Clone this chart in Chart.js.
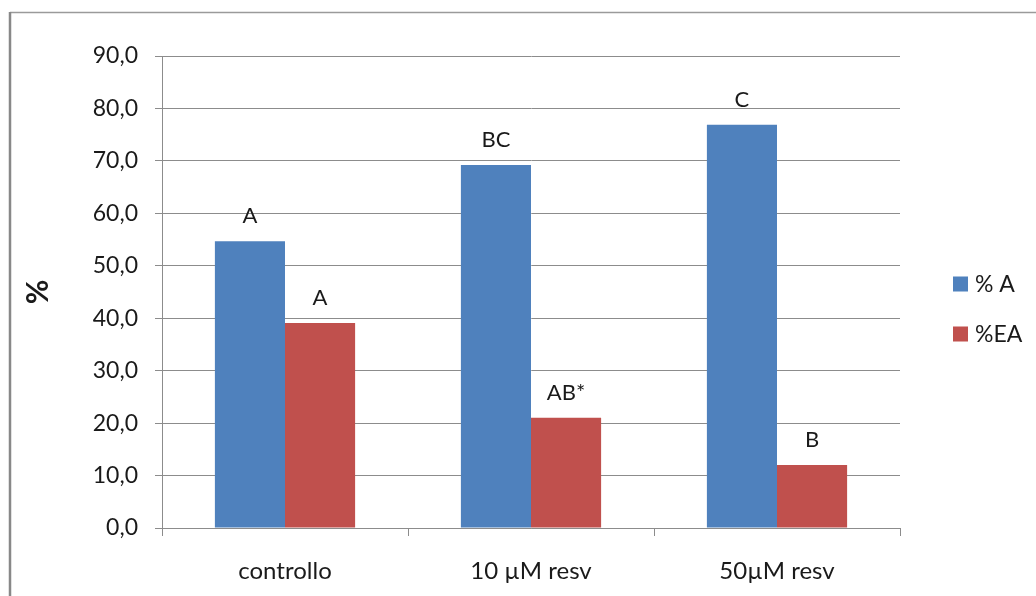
<!DOCTYPE html>
<html>
<head>
<meta charset="utf-8">
<script src="https://cdn.jsdelivr.net/npm/chart.js@4"></script>
<style>
  html, body { margin: 0; padding: 0; background: #fff; }
  #wrap { width: 1036px; height: 596px; }
</style>
</head>
<body>
<div id="wrap"><canvas id="c" width="1036" height="596"></canvas></div>
<script>
// Treatment groups
const categories = ['controllo', '10 \u00B5M resv', '50\u00B5M resv'];
// Series names
const seriesNames = ['% A', '%EA'];
// Percentages per group
const valuesA  = [54.7, 69.2, 76.9];
const valuesEA = [39.1, 21.0, 12.0];
// Significance letters shown above each bar
const lettersA  = ['A', 'BC', 'C'];
const lettersEA = ['A', 'AB*', 'B'];
// Y axis range
const yTicks = { min: 0, max: 90, step: 10 };

const FONT = 'Lato, "Open Sans", sans-serif';
const TEXT = '#1a1a1a';
const GRID = '#8c8c8c';

// Outer frame and white background
const framePlugin = {
  id: 'frame',
  beforeDraw(chart) {
    const { ctx, width, height } = chart;
    ctx.save();
    ctx.fillStyle = '#fff';
    ctx.fillRect(0, 0, width, height);
    ctx.strokeStyle = '#9a9a9a';
    ctx.lineWidth = 1.5;
    ctx.beginPath();
    ctx.moveTo(10, 12.5);
    ctx.lineTo(width, 12.5);
    ctx.stroke();
    ctx.strokeStyle = '#888';
    ctx.lineWidth = 2.5;
    ctx.beginPath();
    ctx.moveTo(10, 12);
    ctx.lineTo(10, height);
    ctx.stroke();
    ctx.restore();
  }
};

// Letters above the bars
const letterPlugin = {
  id: 'letters',
  afterDatasetsDraw(chart, args, opts) {
    const { ctx } = chart;
    ctx.save();
    ctx.font = opts.size + 'px ' + FONT;
    ctx.fillStyle = TEXT;
    ctx.textAlign = 'center';
    ctx.textBaseline = 'alphabetic';
    chart.data.datasets.forEach((ds, di) => {
      const meta = chart.getDatasetMeta(di);
      meta.data.forEach((bar, i) => {
        const txt = ds.letters[i];
        if (txt) ctx.fillText(txt, bar.x, bar.y - opts.gap);
      });
    });
    ctx.restore();
  }
};

// Legend on the right, drawn from the dataset labels and colours
const sideLegend = {
  id: 'sideLegend',
  afterDraw(chart, args, opts) {
    const { ctx } = chart;
    ctx.save();
    ctx.font = opts.size + 'px ' + FONT;
    ctx.textBaseline = 'middle';
    ctx.textAlign = 'left';
    chart.data.datasets.forEach((ds, i) => {
      const cy = opts.y + i * opts.spacing;
      ctx.fillStyle = ds.backgroundColor;
      ctx.fillRect(opts.x, cy - opts.box / 2, opts.box, opts.box);
      ctx.fillStyle = TEXT;
      ctx.fillText(ds.label, opts.x + opts.box + 7, cy + 1);
    });
    ctx.restore();
  }
};

new Chart(document.getElementById('c'), {
  type: 'bar',
  data: {
    labels: categories,
    datasets: [
      { label: seriesNames[0], data: valuesA, letters: lettersA, backgroundColor: '#4F81BD' },
      { label: seriesNames[1], data: valuesEA, letters: lettersEA, backgroundColor: '#C0504D' }
    ]
  },
  options: {
    responsive: false,
    animation: false,
    events: [],
    categoryPercentage: 0.57,
    barPercentage: 1.0,
    layout: { padding: { top: 56, right: 136, bottom: 0, left: 0 } },
    plugins: {
      legend: { display: false },
      tooltip: { enabled: false },
      letters: { size: 22, gap: 18 },
      sideLegend: { x: 953, y: 284, spacing: 50, box: 15, size: 23 }
    },
    scales: {
      x: {
        offset: true,
        grid: { display: true, drawOnChartArea: false, drawTicks: true, tickLength: 8, color: GRID, offset: true },
        border: { color: GRID, width: 1 },
        ticks: { color: TEXT, font: { family: FONT, size: 24 }, padding: 21, maxRotation: 0 },
        afterFit(scale) { scale.height = 68; }
      },
      y: {
        min: yTicks.min,
        max: yTicks.max,
        ticks: {
          stepSize: yTicks.step,
          color: TEXT,
          font: { family: FONT, size: 23 },
          padding: 17,
          callback: v => v.toFixed(1).replace('.', ',')
        },
        grid: { color: GRID, lineWidth: 1, tickLength: 7 },
        border: { color: GRID, width: 1 },
        title: {
          display: true,
          text: '%',
          color: TEXT,
          font: { family: FONT, size: 30, weight: 'bold' },
          padding: { top: 20, bottom: 0 }
        },
        afterFit(scale) { scale.width = 162; }
      }
    }
  },
  plugins: [framePlugin, letterPlugin, sideLegend]
});
</script>
</body>
</html>
